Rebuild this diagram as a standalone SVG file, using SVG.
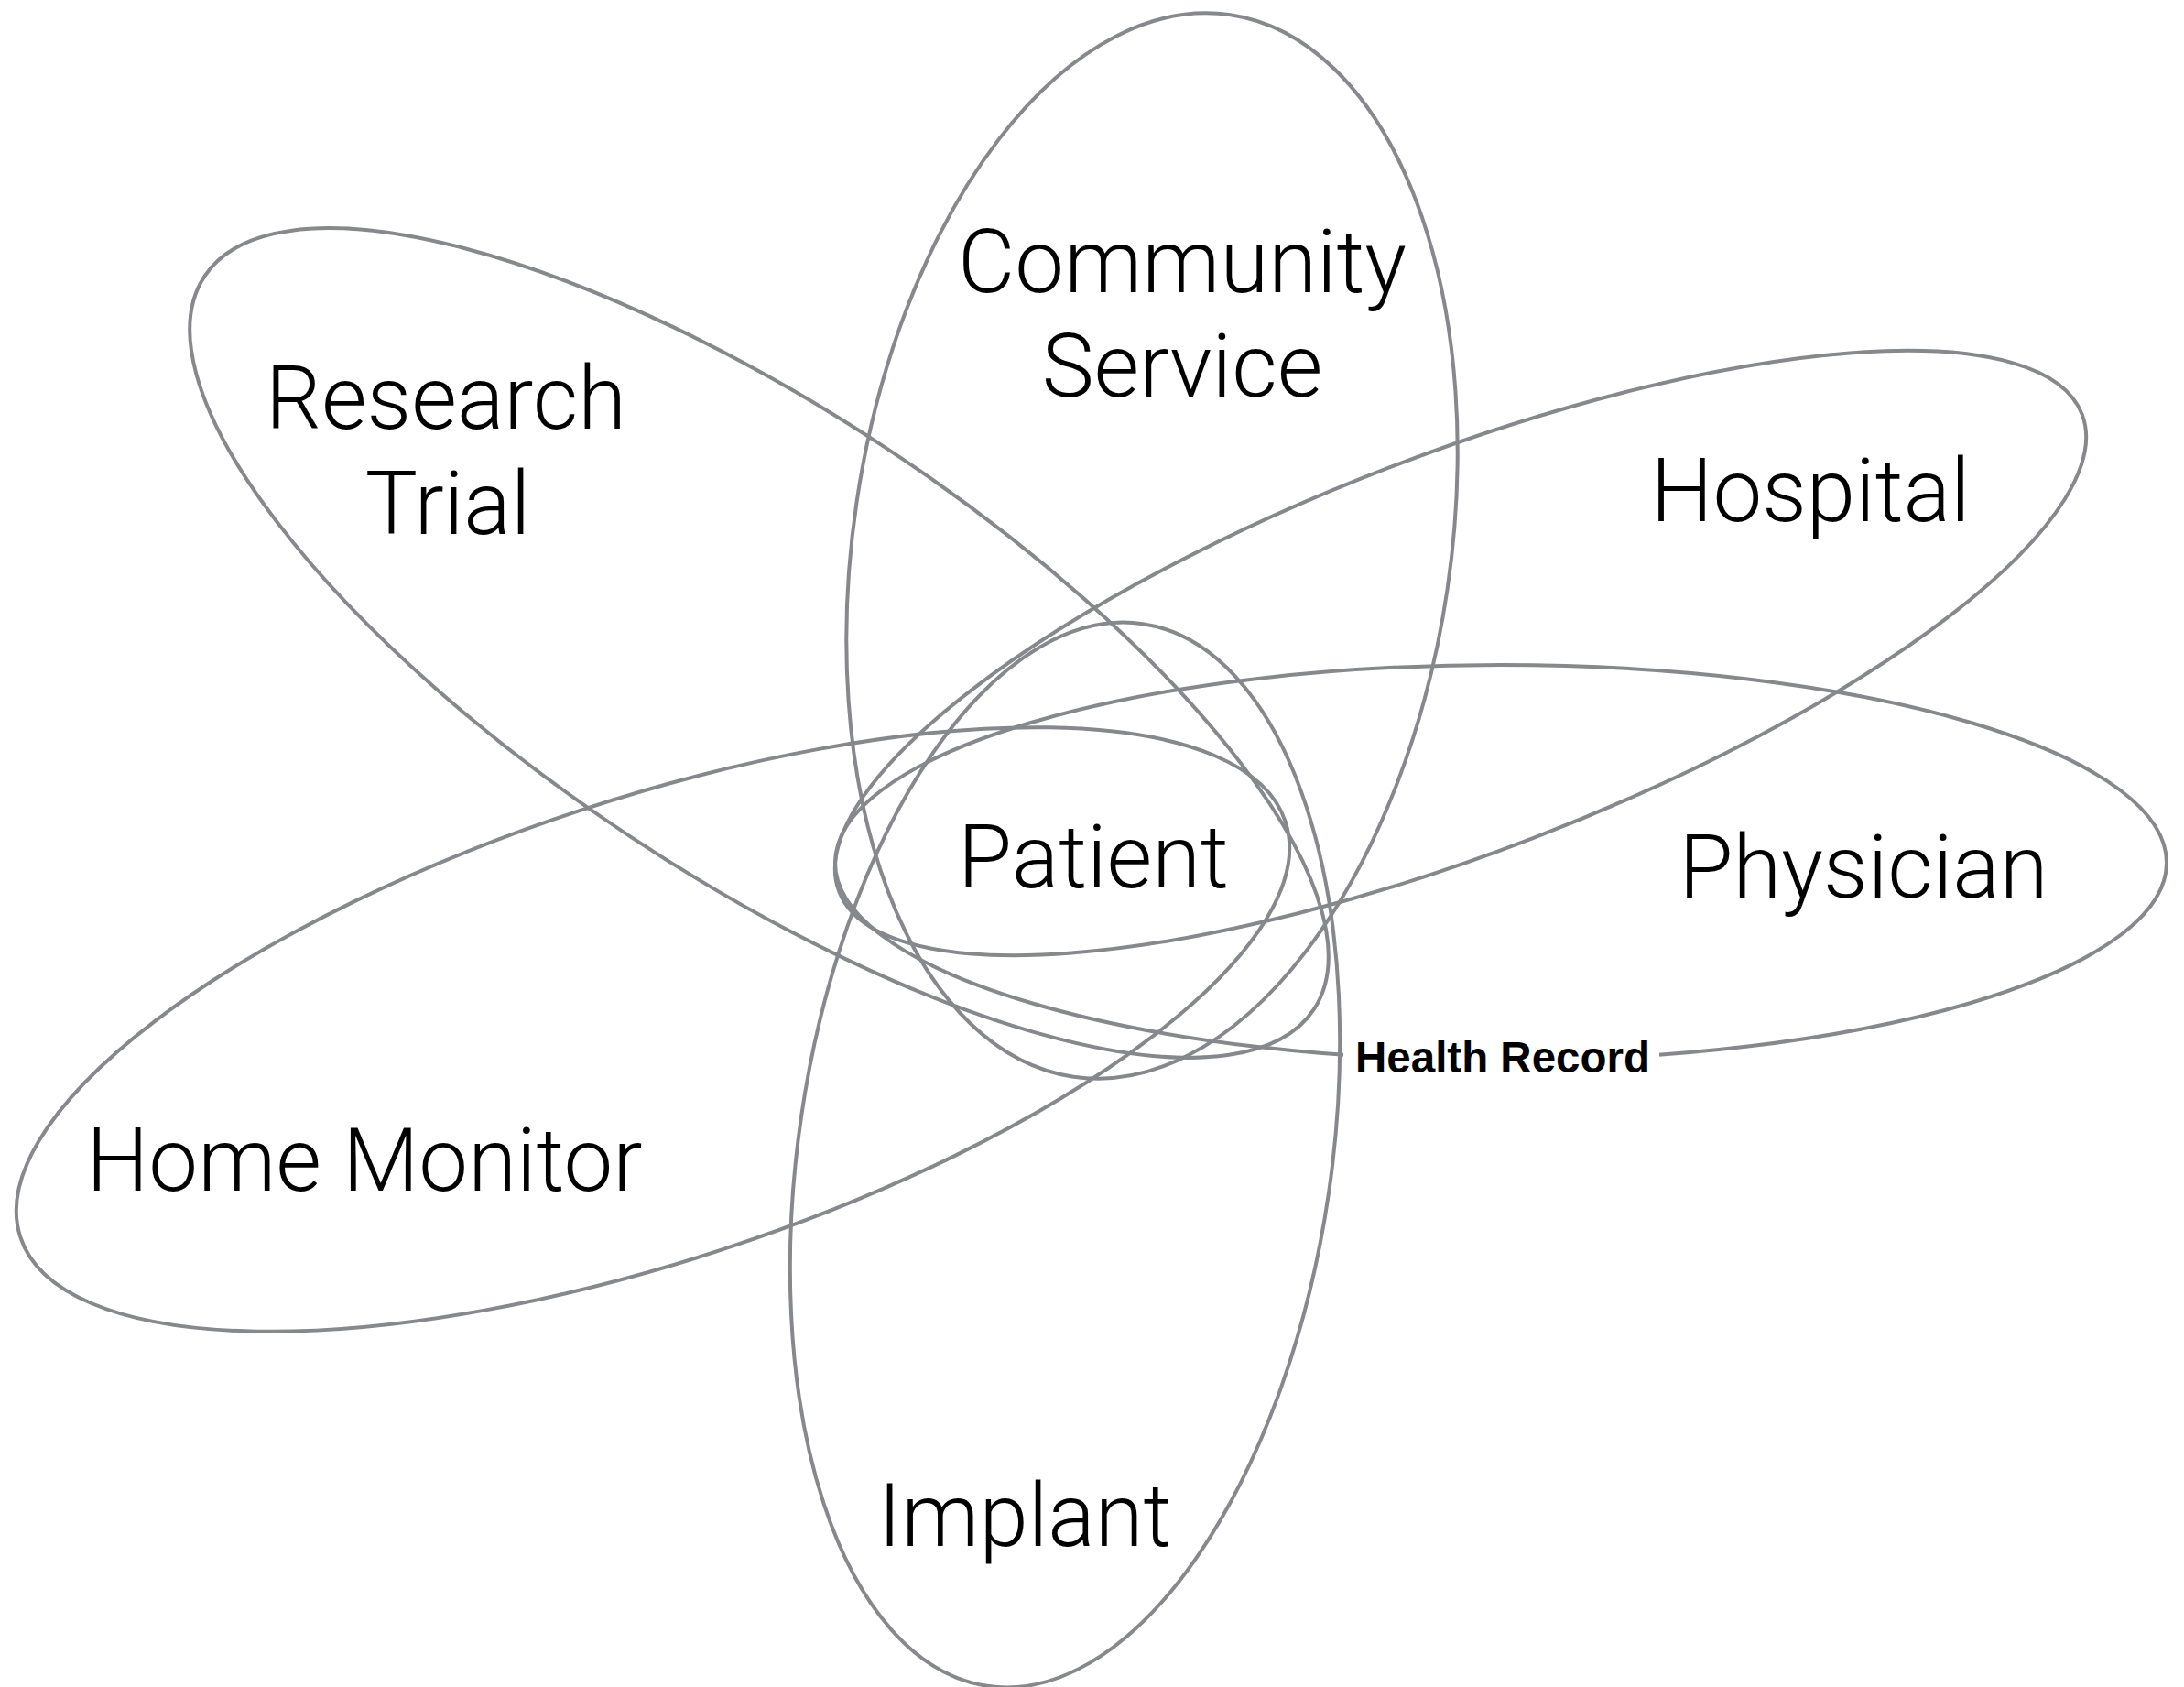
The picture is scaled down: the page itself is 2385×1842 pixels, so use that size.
<svg xmlns="http://www.w3.org/2000/svg" width="2385" height="1842" viewBox="0 0 2385 1842">
<style>
.ring{fill:none;stroke:#86888c;stroke-width:4}
.lbl{font-family:Roboto,"Liberation Sans",sans-serif;font-weight:300;font-size:96px;fill:#000;text-anchor:middle}
.hr{font-family:"Liberation Sans",Arial,sans-serif;font-weight:bold;font-size:47.5px;fill:#000}
</style>
<rect width="2385" height="1842" fill="#ffffff"/>
<g id="community-service">
<ellipse class="ring" cx="1258" cy="596" rx="326" ry="586" transform="rotate(8.41 1258 596)"/>
</g>
<g id="implant">
<ellipse class="ring" cx="1163" cy="1261" rx="291" ry="586" transform="rotate(8.33 1163 1261)"/>
</g>
<g id="research-trial">
<ellipse class="ring" cx="829" cy="702" rx="726" ry="254" transform="rotate(33.45 829 702)"/>
</g>
<g id="hospital">
<ellipse class="ring" cx="1595" cy="713" rx="727" ry="217" transform="rotate(-21.01 1595 713)"/>
</g>
<g id="physician">
<ellipse class="ring" cx="1639" cy="942" rx="727" ry="216"/>
</g>
<g id="home-monitor">
<ellipse class="ring" cx="713" cy="1124" rx="727" ry="252" transform="rotate(-18.18 713 1124)"/>
</g>
<g id="connectors"></g>
<g id="labels">
<text class="lbl" x="1291" y="319">Community</text>
<text class="lbl" x="1291" y="433">Service</text>
<text class="lbl" x="487" y="468">Research</text>
<text class="lbl" x="489" y="583">Trial</text>
<text class="lbl" x="1977" y="569">Hospital</text>
<text class="lbl" x="2035" y="980">Physician</text>
<text class="lbl" x="398" y="1300">Home Monitor</text>
<text class="lbl" x="1119" y="1688">Implant</text>
</g>
<g id="patient">
<text class="lbl" x="1194" y="969">Patient</text>
</g>
<g id="health-record">
<rect x="1467" y="1128" width="345" height="52" fill="#ffffff"/>
<text class="hr" x="1480" y="1171">Health Record</text>
</g>
</svg>
